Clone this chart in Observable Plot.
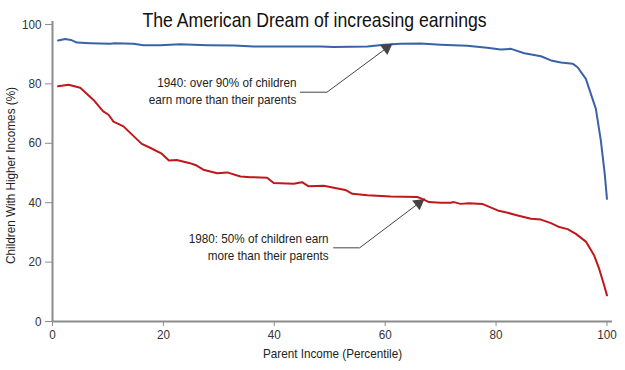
<!DOCTYPE html>
<html>
<head>
<meta charset="utf-8">
<script src="https://cdn.jsdelivr.net/npm/d3@7"></script>
<script src="https://cdn.jsdelivr.net/npm/@observablehq/plot@0.6"></script>
<style>
  html, body { margin: 0; padding: 0; background: #fff; }
  #chart { position: relative; width: 625px; height: 370px; }
</style>
</head>
<body>
<div id="chart"></div>
<script>
const FONT = '"Liberation Sans", Arial, sans-serif';

const title = "The American Dream of increasing earnings";
const xLabel = "Parent Income (Percentile)";
const yLabel = "Children With Higher Incomes (%)";
const xTicks = [0, 20, 40, 60, 80, 100];
const yTicks = [0, 20, 40, 60, 80, 100];

// 1940 cohort (blue)
const pct1940 = [1, 2.3, 3.3, 4.4, 6.8, 10.4, 11.3, 14.6, 16.4, 19.4, 23, 27.9, 32.7, 36.3, 39.9, 44.7, 48.3, 50.7, 56.8, 59.8, 62.8, 66.4, 70, 74.8, 78.4, 80.8, 82.7, 85.1, 88.1, 89.9, 91.7, 93.8, 94.7, 96.2, 98.0, 98.9, 99.6, 100];
const val1940 = [94.6, 95.1, 94.8, 93.9, 93.7, 93.5, 93.7, 93.5, 93.0, 93.0, 93.3, 93.0, 92.9, 92.6, 92.6, 92.6, 92.6, 92.4, 92.6, 93.2, 93.5, 93.6, 93.2, 92.8, 92.2, 91.6, 91.8, 90.3, 89.3, 87.9, 87.2, 86.8, 85.6, 81.7, 71.6, 60.9, 49.7, 41.3];

// 1980 cohort (red)
const pct1980 = [1, 2.9, 5, 7.4, 9.1, 10.1, 11, 12.8, 14.3, 16.1, 17.6, 19.7, 21, 22.4, 24.8, 26, 27.2, 29.7, 31.5, 33.9, 35.7, 38.7, 39.9, 43.5, 45, 46.2, 48.9, 52.8, 54.1, 56.8, 61, 65.8, 66.7, 67.9, 70, 71.8, 72.4, 73.6, 75.1, 77.5, 80.3, 82.1, 83.9, 86.3, 88.1, 89.9, 91.4, 92.9, 94.4, 96.2, 97.7, 98.6, 99.5, 100];
const val1980 = [79.2, 79.7, 78.7, 74.6, 70.8, 69.6, 67.3, 65.7, 63.0, 59.8, 58.5, 56.5, 54.2, 54.4, 53.3, 52.5, 51.1, 49.9, 50.2, 48.8, 48.6, 48.4, 46.6, 46.4, 46.9, 45.5, 45.7, 44.3, 43.0, 42.5, 42.1, 41.9, 41.3, 40.2, 40.0, 40.0, 40.2, 39.6, 39.8, 39.6, 37.4, 36.6, 35.7, 34.6, 34.3, 33.1, 31.8, 31.1, 29.5, 26.9, 22.2, 17.7, 12.1, 8.8];

// Annotations
const note1940 = "1940: over 90% of children\nearn more than their parents";
const note1940At = [44.0, 77.8];
const leader1940X = [44.7, 49.5, 61.3];
const leader1940Y = [77.2, 77.2, 93.5];

const note1980 = "1980: 50% of children earn\nmore than their parents";
const note1980At = [49.8, 25.3];
const leader1980X = [50.7, 55.4, 67.1];
const leader1980Y = [24.8, 24.8, 41.3];

const s1940 = pct1940.map((p, i) => ({p, v: val1940[i]}));
const s1980 = pct1980.map((p, i) => ({p, v: val1980[i]}));
const lead1940 = leader1940X.map((p, i) => ({p, v: leader1940Y[i]}));
const lead1980 = leader1980X.map((p, i) => ({p, v: leader1980Y[i]}));

const AXIS = "#8c8c8c";
const INK = "#333";

const chart = Plot.plot({
  width: 625,
  height: 370,
  marginLeft: 52,
  marginRight: 13,
  marginTop: 21,
  marginBottom: 49,
  style: { fontFamily: FONT, fontSize: "13px", color: INK, background: "#fff" },
  x: { domain: [0, 101] },
  y: { domain: [0, 101] },
  marks: [
    Plot.axisX({ ticks: xTicks, tickSize: 5, tickPadding: 3, stroke: AXIS, fill: INK, fontSize: 13, label: null }),
    Plot.axisY({ ticks: yTicks, tickSize: 7, tickPadding: 4, stroke: AXIS, fill: INK, fontSize: 13, label: null }),
    Plot.ruleX([0], { stroke: AXIS, strokeWidth: 2 }),
    Plot.ruleY([0], { stroke: AXIS, strokeWidth: 2 }),
    Plot.line(s1940, { x: "p", y: "v", stroke: "#3a62a7", strokeWidth: 2 }),
    Plot.line(s1980, { x: "p", y: "v", stroke: "#c0171d", strokeWidth: 2 }),
    // leaders
    Plot.line(lead1940, { x: "p", y: "v", stroke: "#444", strokeWidth: 1 }),
    Plot.line(lead1980, { x: "p", y: "v", stroke: "#444", strokeWidth: 1 }),
    Plot.dot([lead1940[2]], { x: "p", y: "v", symbol: "triangle", r: 4.6, fill: "#444", stroke: "none", rotate: 54, dx: -5.8, dy: 4.2 }),
    Plot.dot([lead1980[2]], { x: "p", y: "v", symbol: "triangle", r: 4.6, fill: "#444", stroke: "none", rotate: 53, dx: -5.8, dy: 4.4 }),
    Plot.text([note1940], { x: () => note1940At[0], y: () => note1940At[1], text: d => d, textAnchor: "end", lineAnchor: "middle", lineHeight: 1.25, fontSize: 13, fill: "#222" }),
    Plot.text([note1980], { x: () => note1980At[0], y: () => note1980At[1], text: d => d, textAnchor: "end", lineAnchor: "middle", lineHeight: 1.25, fontSize: 13, fill: "#222" }),
    // axis titles
    Plot.text([xLabel], { frameAnchor: "bottom", dy: 36, text: d => d, fontSize: 13, fill: "#222" }),
    Plot.text([yLabel], { frameAnchor: "left", textAnchor: "middle", dx: -42, dy: 4, rotate: -90, text: d => d, fontSize: 13, fill: "#222" }),
    // title
    Plot.text([title], { className: "ttl", frameAnchor: "top", dx: -18, dy: -9, text: d => d, fontSize: 21, fill: "#111" })
  ]
});
document.getElementById("chart").appendChild(chart);

// condense glyphs (reference uses a narrow sans)
function squeeze(el, f) {
  const spans = el.querySelectorAll("tspan");
  const targets = spans.length ? spans : [el];
  targets.forEach(t => {
    const len = t.getComputedTextLength();
    if (len > 0) {
      t.setAttribute("textLength", (len * f).toFixed(2));
      t.setAttribute("lengthAdjust", "spacingAndGlyphs");
    }
  });
}
chart.querySelectorAll("text").forEach(t => {
  const isTitle = t.closest(".ttl") !== null;
  squeeze(t, isTitle ? 0.84 : 0.9);
});
</script>
</body>
</html>
